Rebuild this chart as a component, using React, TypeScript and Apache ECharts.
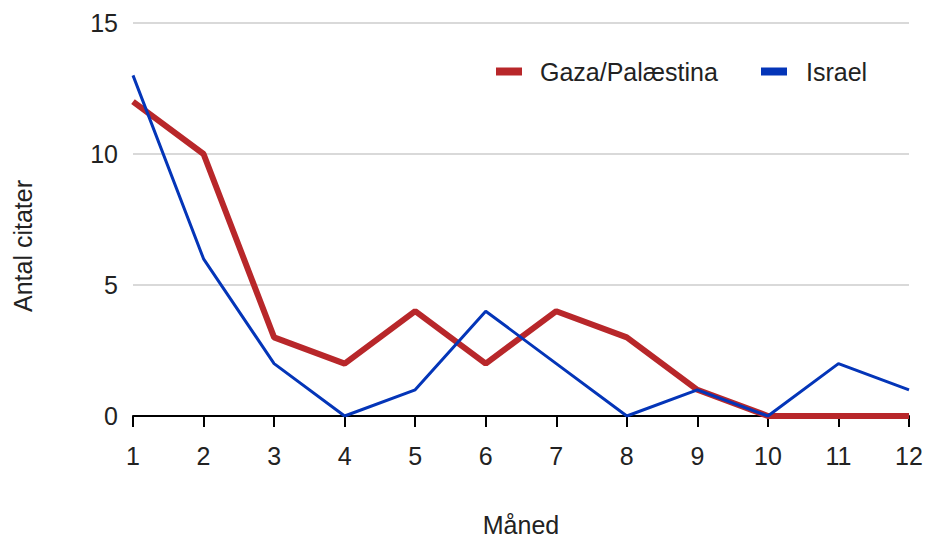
import React, { useEffect, useRef } from "react";
import * as echarts from "echarts";

const months = ["1", "2", "3", "4", "5", "6", "7", "8", "9", "10", "11", "12"];
const gaza = [12, 10, 3, 2, 4, 2, 4, 3, 1, 0, 0, 0];
const israel = [13, 6, 2, 0, 1, 4, 2, 0, 1, 0, 2, 1];
const seriesNames = ["Gaza/Palæstina", "Israel"];
const xName = "Måned";
const yName = "Antal citater";

export default function App() {
  const ref = useRef<HTMLDivElement>(null);
  useEffect(() => {
    if (!ref.current) return;
    const chart = echarts.init(ref.current, null, { renderer: "svg" });
    const font = "'Liberation Sans', Arial, sans-serif";
    const fs = 25;
    const legendBase = {
      top: 59,
      padding: 0,
      itemWidth: 26,
      itemHeight: 8,
      icon: "rect",
    };
    chart.setOption({
      animation: false,
      textStyle: { fontFamily: font },
      grid: { left: 133, right: 18, top: 23, bottom: 122, containLabel: false },
      legend: [
        {
          ...legendBase,
          left: 496,
          data: [seriesNames[0]],
          textStyle: { fontSize: fs, color: "#222", fontFamily: font, padding: [0, 0, 0, 13] },
        },
        {
          ...legendBase,
          left: 761,
          data: [seriesNames[1]],
          textStyle: { fontSize: fs, color: "#222", fontFamily: font, padding: [0, 0, 0, 14] },
        },
      ],
      graphic: [
        {
          type: "text",
          x: 23,
          y: 246,
          rotation: Math.PI / 2,
          style: {
            text: yName,
            fontSize: fs,
            fontFamily: font,
            fill: "#222",
            align: "center",
            verticalAlign: "middle",
          },
        },
      ],
      xAxis: {
        type: "category",
        data: months,
        boundaryGap: false,
        name: xName,
        nameLocation: "middle",
        nameGap: 96,
        nameTextStyle: { fontSize: fs, color: "#222", fontFamily: font },
        axisLine: { lineStyle: { color: "#000", width: 2 } },
        axisTick: { alignWithLabel: true, length: 11, lineStyle: { color: "#000", width: 2 } },
        axisLabel: { fontSize: fs, color: "#222", margin: 27, fontFamily: font },
      },
      yAxis: {
        type: "value",
        min: 0,
        max: 15,
        interval: 5,
        axisLine: { show: false },
        axisTick: { show: false },
        axisLabel: { fontSize: fs, color: "#222", margin: 15, fontFamily: font },
        splitLine: { lineStyle: { color: "#cccccc", width: 1.5 } },
      },
      series: [
        {
          name: seriesNames[0],
          type: "line",
          data: gaza,
          symbol: "none",
          lineStyle: { width: 6, color: "#b8272a" },
          itemStyle: { color: "#b8272a" },
          z: 2,
        },
        {
          name: seriesNames[1],
          type: "line",
          data: israel,
          symbol: "none",
          lineStyle: { width: 3, color: "#0435b8" },
          itemStyle: { color: "#0435b8" },
          z: 3,
        },
      ],
    });
    return () => chart.dispose();
  }, []);
  return <div ref={ref} style={{ width: 927, height: 542, position: "absolute", left: 0, top: 0 }} />;
}
